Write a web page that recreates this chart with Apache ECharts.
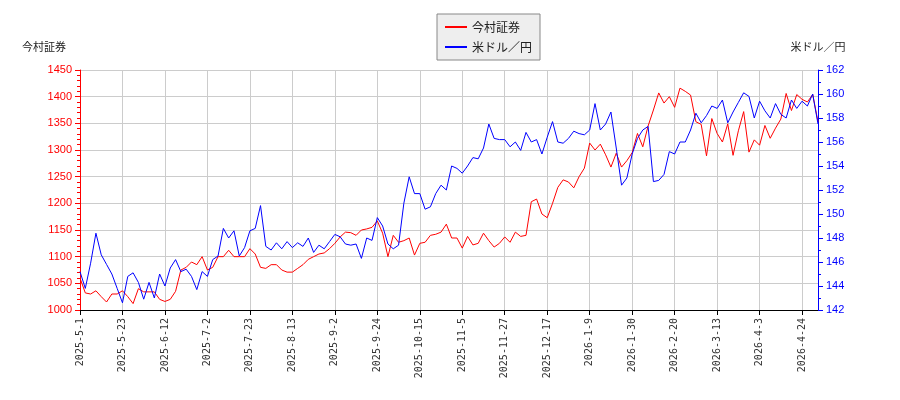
<!DOCTYPE html>
<html><head><meta charset="utf-8">
<script src="https://cdn.jsdelivr.net/npm/echarts@6/dist/echarts.min.js"></script>
<style>html,body{margin:0;padding:0;background:#fff}#c{width:900px;height:400px}</style>
</head><body><div id="c"></div>
<script>
const tickLabels = ['2025-5-1','2025-5-23','2025-6-12','2025-7-2','2025-7-23','2025-8-13','2025-9-2','2025-9-24','2025-10-15','2025-11-5','2025-11-27','2025-12-17','2026-1-9','2026-1-30','2026-2-20','2026-3-13','2026-4-3','2026-4-24'];
const stock = [
1060,1032,1030,1036,1025,1015,1030,1030,
1036,1025,1012,1040,1034,1034,1034,1020,
1016,1020,1035,1075,1080,1090,1085,1100,
1075,1080,1100,1100,1112,1100,1100,1100,
1115,1105,1080,1078,1085,1085,1075,1071,
1071,1078,1085,1095,1100,1105,1107,1115,
1125,1137,1146,1145,1140,1150,1152,1155,
1167,1144,1100,1140,1127,1130,1135,1103,
1125,1127,1140,1142,1146,1161,1135,1135,
1116,1138,1122,1125,1144,1130,1118,1125,
1137,1127,1146,1138,1140,1203,1208,1180,
1173,1200,1230,1244,1240,1229,1250,1266,
1313,1300,1311,1291,1268,1294,1268,1280,
1295,1331,1306,1345,1375,1407,1388,1400,
1380,1416,1410,1403,1353,1348,1289,1359,
1331,1315,1349,1290,1336,1372,1296,1319,
1309,1346,1322,1341,1358,1406,1374,1404,
1395,1390,1404,1353];
const usdjpy = [
145.2,143.8,145.9,148.4,146.6,145.8,145,143.8,
142.6,144.8,145.1,144.3,142.9,144.3,143,145,
144,145.5,146.2,145.2,145.4,144.8,143.7,145.2,
144.8,146.2,146.5,148.8,148,148.6,146.5,147.2,
148.6,148.8,150.7,147.3,147,147.6,147.1,147.7,
147.2,147.6,147.3,148,146.8,147.4,147.1,147.7,
148.3,148.1,147.5,147.4,147.5,146.3,148,147.8,
149.7,149,147.5,147.1,147.4,150.9,153.1,151.7,
151.7,150.4,150.6,151.7,152.4,152,154,153.8,
153.4,154,154.7,154.6,155.5,157.5,156.3,156.2,
156.2,155.6,156,155.3,156.8,156,156.2,155,
156.4,157.7,156,155.9,156.3,156.9,156.7,156.6,
157,159.2,157,157.5,158.5,155.5,152.4,153,
155,156.3,157,157.3,152.7,152.8,153.3,155.2,
155,156,156,157,158.4,157.6,158.2,159,
158.8,159.5,157.6,158.5,159.3,160.1,159.8,158,
159.4,158.6,158,159.2,158.3,158,159.5,158.8,
159.4,159,160,157.5];

function pd(s){const p=s.split('-').map(Number);return new Date(p[0],p[1]-1,p[2]);}
function fd(d){return d.getFullYear()+'-'+(d.getMonth()+1)+'-'+d.getDate();}
const cats=[];
for(let i=0;i<tickLabels.length;i++){
  const a=pd(tickLabels[i]);
  const b=i<tickLabels.length-1?pd(tickLabels[i+1]):new Date(a.getTime()+21*864e5);
  const n=i<tickLabels.length-1?8:stock.length-cats.length;
  for(let k=0;k<n;k++){
    if(k===0){cats.push(tickLabels[i]);continue;}
    cats.push(fd(new Date(a.getTime()+Math.round((b-a)/864e5*k/8)*864e5)));
  }
}
const tickSet=new Set(tickLabels);
const chart=echarts.init(document.getElementById('c'));
const font='"DejaVu Sans Mono", monospace';
chart.setOption({
  animation:false,
  legend:{top:14,left:437,orient:'vertical',itemWidth:22,itemHeight:2,itemGap:8,
    borderColor:'#888',borderWidth:1,padding:[7,8,7,8],backgroundColor:'#eee',
    textStyle:{fontSize:12,color:'#222',fontFamily:'"Noto Sans CJK JP"'},
    data:[{name:'今村証券',icon:'rect'},{name:'米ドル／円',icon:'rect'}]},
  grid:{left:80,right:82,top:70,bottom:90},
  xAxis:{type:'category',data:cats,boundaryGap:false,
    axisLine:{lineStyle:{color:'#000'}},
    axisTick:{interval:(i,v)=>tickSet.has(v),lineStyle:{color:'#000'}},
    splitLine:{show:true,interval:(i,v)=>tickSet.has(v),lineStyle:{color:'#ccc'}},
    axisLabel:{interval:(i,v)=>tickSet.has(v),rotate:90,fontSize:10,color:'#333',fontFamily:font}},
  yAxis:[
    {type:'value',min:1000,max:1450,interval:50,name:'今村証券',nameLocation:'end',
     nameGap:18,nameTextStyle:{color:'#222',fontSize:11,align:'right',padding:[0,14,0,0],fontFamily:'"Noto Sans CJK JP"'},
     axisLine:{show:true,lineStyle:{color:'red'}},axisTick:{show:true,lineStyle:{color:'red'}},
     minorTick:{show:true,splitNumber:5,length:3,lineStyle:{color:'red'}},
     axisLabel:{color:'red',fontSize:11,formatter:v=>String(v)},splitLine:{lineStyle:{color:'#ccc'}}},
    {type:'value',min:142,max:162,interval:2,name:'米ドル／円',nameLocation:'end',
     nameGap:18,nameTextStyle:{color:'#222',fontSize:11,align:'center',fontFamily:'"Noto Sans CJK JP"'},
     axisLine:{show:true,lineStyle:{color:'blue'}},axisTick:{show:true,lineStyle:{color:'blue'}},
     minorTick:{show:true,splitNumber:2,length:3,lineStyle:{color:'blue'}},
     axisLabel:{color:'blue',fontSize:11},splitLine:{show:false}}
  ],
  series:[
    {name:'今村証券',type:'line',data:stock,yAxisIndex:0,symbol:'none',lineStyle:{color:'red',width:1},itemStyle:{color:'red'}},
    {name:'米ドル／円',type:'line',data:usdjpy,yAxisIndex:1,symbol:'none',lineStyle:{color:'blue',width:1},itemStyle:{color:'blue'}}
  ]
});
</script></body></html>
